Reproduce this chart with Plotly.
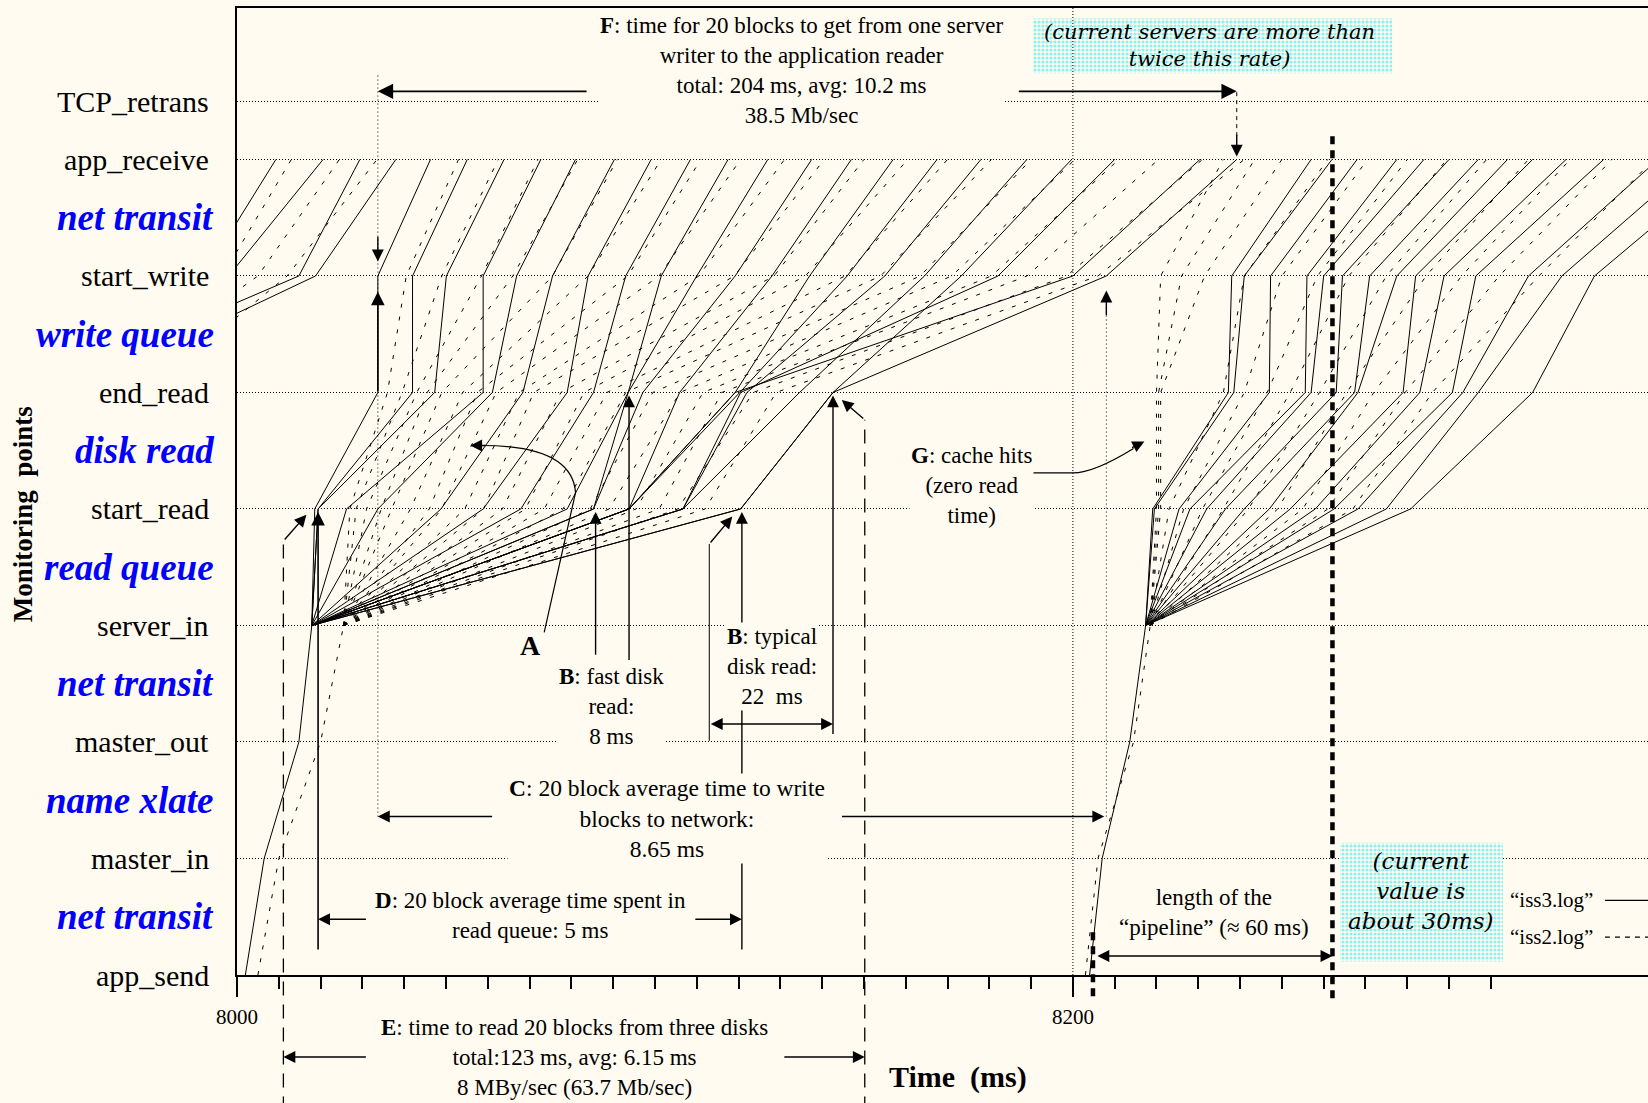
import plotly.graph_objects as go

BG = "#FFFBF0"
SERIF = "Liberation Serif, Times New Roman, serif"
ITALIC_FACE = "DejaVu Serif, serif"

X_RANGE = [8000, 8337.6]
Y_TOP = 16.6

# ---- monitoring points and the phases between them (y positions) ----
point_names = ["app_send", "master_in", "master_out", "server_in", "start_read",
               "end_read", "start_write", "app_receive", "TCP_retrans"]
point_levels = [0, 2, 4, 6, 8, 10, 12, 14, 15]
phase_names = ["net transit", "name xlate", "net transit", "read queue",
               "disk read", "write queue", "net transit"]
phase_levels = [1, 3, 5, 7, 9, 11, 13]

REQ_LEVELS = [0, 2, 4, 6]            # app_send, master_in, master_out, server_in
BLOCK_LEVELS = [6, 8, 10, 12, 14]    # server_in, start_read, end_read, start_write, app_receive
TAIL_LEVELS = [10, 12, 14]           # end_read, start_write, app_receive

# ---- "iss3.log" (solid) ----
iss3_prev_end_read = [7968.0, 7975.0, 7950.0, 7960.0]
iss3_prev_start_write = [7992.0, 7998.0, 8014.8, 8018.8]
iss3_prev_app_receive = [8009.3, 8020.6, 8029.4, 8038.0]

iss3_req1 = [8002.0, 8006.5, 8014.8, 8017.9]
iss3_b1_start_read = [8018.6, 8019.4, 8019.4, 8026.2, 8033.7, 8048.8, 8058.9, 8067.9, 8079.0, 8085.3,
                      8085.3, 8093.8, 8093.8, 8093.8, 8106.7, 8106.7, 8120.5, 8106.7, 8093.8, 8120.5]
iss3_b1_end_read = [8033.7, 8042.0, 8047.3, 8058.9, 8061.1, 8068.4, 8079.0, 8085.3, 8093.6, 8093.6,
                    8097.1, 8105.9, 8119.2, 8120.3, 8122.0, 8134.6, 8142.6, 8120.5, 8119.2, 8142.6]
iss3_b1_start_write = [8033.7, 8042.0, 8050.1, 8058.9, 8066.9, 8075.5, 8084.0, 8093.0, 8101.5, 8110.0,
                       8119.2, 8128.0, 8137.0, 8146.0, 8155.0, 8164.5, 8173.3, 8182.1, 8200.0, 8208.0]
iss3_b1_app_receive = [8046.3, 8055.1, 8063.9, 8072.7, 8081.0, 8090.3, 8099.1, 8108.5, 8117.5, 8127.0,
                       8137.5, 8147.0, 8157.0, 8167.5, 8178.0, 8189.0, 8199.7, 8210.0, 8230.4, 8239.2]

iss3_req2 = [8204.0, 8207.0, 8213.6, 8217.4]
iss3_b2_start_read = [8219.1, 8219.5, 8225.4, 8228.0, 8232.0, 8236.5, 8241.0, 8247.0, 8252.0, 8258.0,
                      8262.5, 8268.2, 8275.0, 8280.8]
iss3_b2_end_read = [8237.2, 8238.5, 8247.0, 8255.6, 8257.0, 8263.0, 8267.4, 8268.2, 8279.0, 8283.0,
                    8290.8, 8293.3, 8297.0, 8310.0]
iss3_b2_start_write = [8238.0, 8241.0, 8247.3, 8256.0, 8260.0, 8264.5, 8271.0, 8277.5, 8282.0, 8288.8,
                       8296.4, 8309.0, 8317.0, 8324.8]
iss3_b2_app_receive = [8257.0, 8262.0, 8268.0, 8277.5, 8284.0, 8290.0, 8297.0, 8304.0, 8310.0, 8318.0,
                       8327.0, 8340.0, 8349.0, 8358.0]

# ---- "iss2.log" (dashed) ----
iss2_prev_end_read = [7972.0, 7966.0, 7978.0]
iss2_prev_start_write = [7996.5, 8005.0, 8012.0]
iss2_prev_app_receive = [8013.0, 8024.5, 8033.5]

iss2_req1 = [8005.0, 8010.0, 8020.0, 8025.5]
iss2_b1_start_read = [8027.0, 8028.5, 8031.0, 8034.5, 8037.0, 8041.5, 8046.0, 8049.0, 8054.5, 8059.0,
                      8063.5, 8069.0, 8073.5, 8078.0, 8084.5, 8089.0, 8095.5, 8101.0, 8105.5, 8112.0]
iss2_b1_end_read = [8036.0, 8039.5, 8043.0, 8045.5, 8049.0, 8054.0, 8057.5, 8062.0, 8067.5, 8071.0,
                    8077.5, 8083.0, 8088.5, 8093.0, 8099.5, 8106.0, 8111.5, 8116.0, 8123.5, 8129.0]
iss2_b1_start_write = [8040.5, 8049.0, 8058.5, 8066.0, 8075.5, 8084.0, 8093.5, 8101.0, 8110.5, 8119.0,
                       8128.5, 8136.0, 8145.5, 8154.0, 8163.5, 8171.0, 8180.5, 8189.0, 8198.5, 8206.0]
iss2_b1_app_receive = [8053.0, 8062.5, 8072.0, 8081.5, 8091.0, 8101.5, 8111.0, 8120.5, 8131.0, 8140.5,
                       8150.0, 8160.5, 8170.0, 8180.5, 8190.0, 8200.5, 8211.0, 8220.5, 8231.0, 8241.0]

iss2_req2 = [8203.0, 8206.0, 8214.5, 8218.5]
iss2_b2_start_read = [8220.0, 8220.5, 8221.0, 8223.0, 8226.5, 8231.0, 8236.0, 8242.0, 8249.0, 8255.0,
                      8261.0, 8267.0]
iss2_b2_end_read = [8220.0, 8220.5, 8221.0, 8236.0, 8241.0, 8246.5, 8252.0, 8259.0, 8265.5, 8272.0,
                    8279.5, 8286.0]
iss2_b2_start_write = [8221.0, 8226.0, 8231.5, 8241.0, 8250.0, 8258.5, 8266.0, 8275.0, 8284.5, 8293.0,
                       8302.0, 8311.5]
iss2_b2_app_receive = [8236.0, 8243.5, 8250.0, 8261.0, 8270.5, 8280.0, 8289.5, 8299.0, 8309.0, 8319.0,
                       8329.0, 8339.0]


def request_paths(req, sr, er, sw, ar):
    """Request path to the server, then one polyline per block."""
    xs = list(req) + [None]
    ys = list(REQ_LEVELS) + [None]
    for a, b, c, d in zip(sr, er, sw, ar):
        xs += [req[-1], a, b, c, d, None]
        ys += BLOCK_LEVELS + [None]
    return xs, ys


def tail_paths(er, sw, ar):
    xs, ys = [], []
    for b, c, d in zip(er, sw, ar):
        xs += [b, c, d, None]
        ys += TAIL_LEVELS + [None]
    return xs, ys


def log_trace(parts, dash):
    xs, ys = [], []
    for px, py in parts:
        xs += px
        ys += py
    return go.Scatter(x=xs, y=ys, mode="lines", line=dict(color="black", width=1, dash=dash),
                      hoverinfo="skip", showlegend=False)


def pattern_box(x0, x1, y0, y1):
    return go.Scatter(x=[x0, x1, x1, x0, x0], y=[y0, y0, y1, y1, y0], mode="lines",
                      line=dict(width=0, color="rgba(0,0,0,0)"), fill="toself",
                      fillpattern=dict(shape=".", fgcolor="#1FE3EC", bgcolor=BG, size=4, solidity=0.5),
                      hoverinfo="skip", showlegend=False)


fig = go.Figure()
fig.add_trace(pattern_box(8190.4, 8276.4, 15.48, 16.42))
fig.add_trace(pattern_box(8263.9, 8302.9, 0.23, 2.27))

fig.add_trace(log_trace([
    tail_paths(iss3_prev_end_read, iss3_prev_start_write, iss3_prev_app_receive),
    request_paths(iss3_req1, iss3_b1_start_read, iss3_b1_end_read, iss3_b1_start_write, iss3_b1_app_receive),
    request_paths(iss3_req2, iss3_b2_start_read, iss3_b2_end_read, iss3_b2_start_write, iss3_b2_app_receive),
], "solid"))
fig.add_trace(log_trace([
    tail_paths(iss2_prev_end_read, iss2_prev_start_write, iss2_prev_app_receive),
    request_paths(iss2_req1, iss2_b1_start_read, iss2_b1_end_read, iss2_b1_start_write, iss2_b1_app_receive),
    request_paths(iss2_req2, iss2_b2_start_read, iss2_b2_end_read, iss2_b2_start_write, iss2_b2_app_receive),
], "4px,9px"))


# ---- guide lines ----
def vline(x, y0, y1, dash="solid", width=1.0, yref="y"):
    return dict(type="line", xref="x", yref=yref, x0=x, x1=x, y0=y0, y1=y1, layer="above",
                line=dict(color="black", width=width, dash=dash))


def seg(x0, y0, x1, y1, dash="solid", width=1.0):
    return dict(type="line", xref="x", yref="y", x0=x0, x1=x1, y0=y0, y1=y1, layer="above",
                line=dict(color="black", width=width, dash=dash))


shapes = [
    vline(8200, 0, Y_TOP, dash="1px,2px"),
    vline(8033.7, 2.72, 15.48, dash="1px,3px"),
    vline(8208.0, 2.72, 11.5, dash="1px,3px"),
    vline(8239.2, 14.4, 15.17, dash="4px,4px"),
    vline(8262.1, -0.024, 14.43 / Y_TOP, dash="8px,6px", width=4.5, yref="paper"),
    vline(8204.8, -0.022, 0.75 / Y_TOP, dash="8px,6px", width=4.5, yref="paper"),
    vline(8011.1, -0.14, 7.45 / Y_TOP, dash="14px,9px", width=1.3, yref="paper"),
    vline(8150.2, -0.14, 9.53 / Y_TOP, dash="14px,9px", width=1.3, yref="paper"),
    vline(8113.0, 4.02, 7.40),
    # "A" pointer and "G" pointer
    dict(type="path", xref="x", yref="y", layer="above", line=dict(color="black", width=1.2),
         path="M 8073.5,5.88 L 8081.0,8.28 Q 8080.2,9.09 8058.5,9.09"),
    dict(type="path", xref="x", yref="y", layer="above", line=dict(color="black", width=1.2),
         path="M 8189.2,8.62 L 8200.0,8.62 Q 8205.0,8.62 8214.5,9.04"),
    # legend samples
    seg(8327.3, 1.28, 8338.0, 1.28, width=1.3),
    seg(8327.3, 0.65, 8338.0, 0.65, dash="5px,5px", width=1.3),
]


def arrow(x, y, ax, ay, both=False, width=1.4):
    return dict(x=x, y=y, ax=ax, ay=ay, xref="x", yref="y", axref="x", ayref="y", text="",
                showarrow=True, arrowhead=2, arrowsize=1.7, arrowwidth=width, arrowcolor="black",
                arrowside="end+start" if both else "end", startarrowhead=2, startarrowsize=1.7)


annotations = [
    # F
    arrow(8033.7, 15.17, 8084.0, 15.17, width=1.8), arrow(8239.2, 15.17, 8186.7, 15.17, width=1.8),
    arrow(8239.2, 14.05, 8239.2, 14.45),
    # C
    arrow(8033.7, 2.72, 8061.4, 2.72), arrow(8207.5, 2.72, 8144.4, 2.72),
    arrow(8208.0, 11.75, 8208.0, 11.3),
    # arrows meeting at start_write on the 8033.7 line
    arrow(8033.7, 11.73, 8033.7, 10.0, width=1.6), arrow(8033.7, 12.25, 8033.7, 12.7),
    # D
    arrow(8019.4, 0.956, 8031.2, 0.956), arrow(8120.8, 0.956, 8109.3, 0.956),
    arrow(8019.4, 7.95, 8019.4, 0.41, width=1.6), arrow(8120.8, 7.95, 8120.8, 0.41),
    # B fast / B typical
    arrow(8085.8, 7.95, 8085.8, 5.47), arrow(8093.8, 9.95, 8093.8, 5.38),
    arrow(8142.6, 9.95, 8142.6, 4.11), arrow(8118.5, 7.87, 8113.0, 7.40),
    arrow(8142.6, 4.31, 8113.0, 4.31, both=True),
    # E tops
    arrow(8016.6, 7.90, 8011.1, 7.45), arrow(8144.7, 9.87, 8150.2, 9.53),
    # A and G heads
    arrow(8055.8, 9.09, 8059.8, 9.09), arrow(8217.1, 9.16, 8213.8, 9.04),
    # pipeline
    arrow(8262.1, 0.325, 8205.5, 0.325, both=True),
    # E arrows below the axis
    dict(x=8011.1, y=-0.0848, xref="x", yref="paper", axref="x", ax=8031.2, ayref="pixel", ay=0,
         text="", showarrow=True, arrowhead=2, arrowsize=1.7, arrowwidth=1.4, arrowcolor="black"),
    dict(x=8150.2, y=-0.0848, xref="x", yref="paper", axref="x", ax=8130.6, ayref="pixel", ay=0,
         text="", showarrow=True, arrowhead=2, arrowsize=1.7, arrowwidth=1.4, arrowcolor="black"),
]


def note(text, x, y, size=24, bg=True, font=SERIF, yref="y", color="black", xanchor="center"):
    return dict(text=text, x=x, y=y, xref="x", yref=yref, showarrow=False, xanchor=xanchor,
                yanchor="middle", align="center", bgcolor=BG if bg else None, borderpad=1,
                font=dict(family=font, size=size, color=color))


annotations += [
    note("<b>F</b>: time for 20 blocks to get from one server<br>writer to the application reader"
         "<br>total: 204 ms, avg: 10.2 ms<br>38.5 Mb/sec", 8135.1, 15.53, size=23),
    note("<i>(current servers are more than<br>twice this rate)</i>", 8232.7, 15.95, size=21,
         bg=False, font=ITALIC_FACE),
    note("<b>B</b>: typical<br>disk read:<br>22  ms", 8128.1, 5.295, size=23),
    note("<b>B</b>: fast disk<br>read:<br>8 ms", 8089.6, 4.61, size=23),
    note("<b>A</b>", 8070.2, 5.65, size=28, bg=False),
    note("<b>C</b>: 20 block average time to write<br>blocks to network:<br>8.65 ms", 8102.9, 2.68, size=23.5),
    note("<b>D</b>: 20 block average time spent in<br>read queue: 5 ms", 8070.2, 1.02, size=23),
    note("<b>G</b>: cache hits<br>(zero read<br>time)", 8175.8, 8.40, size=23),
    note("length of the<br>“pipeline” (≈ 60 ms)", 8233.7, 1.07, size=23),
    note("<i>(current<br>value is<br>about 30ms)</i>", 8283.3, 1.44, size=23, bg=False, font=ITALIC_FACE),
    note("“iss3.log”", 8325.0, 1.28, size=21, bg=False, xanchor="right"),
    note("“iss2.log”", 8325.0, 0.65, size=21, bg=False, xanchor="right"),
    note("<b>E</b>: time to read 20 blocks from three disks<br>total:123 ms, avg: 6.15 ms"
         "<br>8 MBy/sec (63.7 Mb/sec)", 8080.8, -0.0848, size=23, bg=False, yref="paper"),
    note("<b>Time  (ms)</b>", 8172.6, -0.105, size=30, bg=False, yref="paper"),
]

# row labels on the left
for name, lvl in zip(point_names, point_levels):
    annotations.append(dict(text=name, x=-0.0184, xref="paper", y=lvl, yref="y", xanchor="right",
                            yanchor="middle", showarrow=False,
                            font=dict(family=SERIF, size=30, color="black")))
for name, lvl in zip(phase_names, phase_levels):
    annotations.append(dict(text=f"<b><i>{name}</i></b>", x=-0.0152, xref="paper", y=lvl, yref="y",
                            xanchor="right", yanchor="middle", showarrow=False,
                            font=dict(family=SERIF, size=37, color="#0000FF")))
annotations.append(dict(text="<b>Monitoring  points</b>", x=-0.152, xref="paper", y=7.9, yref="y",
                        textangle=-90, showarrow=False, xanchor="center", yanchor="middle",
                        font=dict(family=SERIF, size=27, color="black")))

fig.update_layout(
    width=1648, height=1103,
    margin=dict(l=237, r=0, t=8, b=128, autoexpand=False),
    paper_bgcolor=BG, plot_bgcolor=BG,
    hovermode=False, showlegend=False,
    shapes=shapes, annotations=annotations,
    xaxis=dict(range=X_RANGE, showgrid=False, zeroline=False,
               showline=True, linecolor="black", linewidth=2, mirror=True,
               ticks="outside", ticklen=20, tickwidth=2, tickcolor="black",
               tickvals=[8000, 8100, 8200, 8300], ticktext=["8000", "", "8200", ""],
               ticklabelstandoff=2,
               tickfont=dict(family=SERIF, size=21, color="black"),
               minor=dict(tickmode="array", tickvals=list(range(8000, 8301, 10)),
                          ticks="outside", ticklen=12, tickwidth=1.5, tickcolor="black",
                          showgrid=False)),
    yaxis=dict(range=[0, Y_TOP], zeroline=False, showline=True, linecolor="black", linewidth=2,
               ticks="", showticklabels=False, tickvals=point_levels[1:],
               showgrid=True, gridcolor="black", gridwidth=1, griddash="1px,2px"),
)

fig.write_html("out.html")
